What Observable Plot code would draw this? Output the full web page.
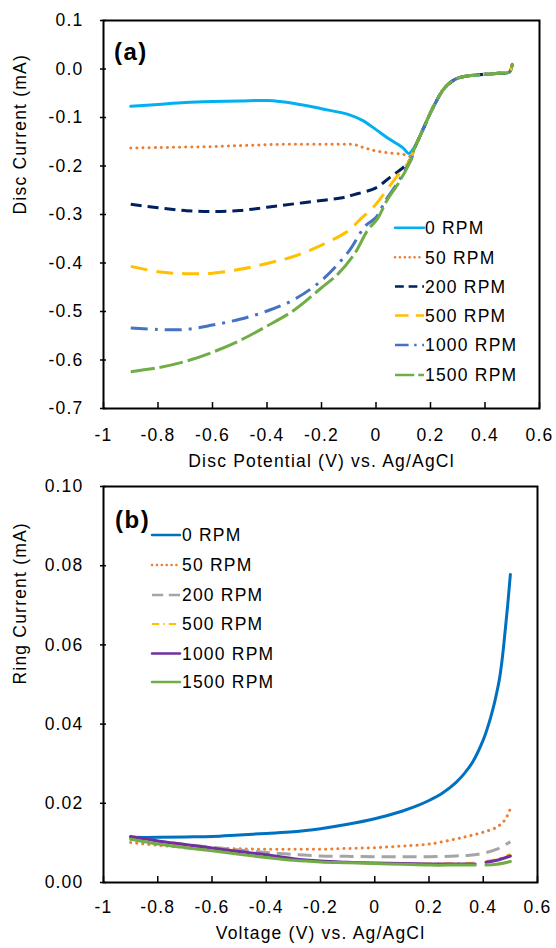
<!DOCTYPE html>
<html>
<head>
<meta charset="utf-8">
<script src="https://cdn.jsdelivr.net/npm/d3@7"></script>
<script src="https://cdn.jsdelivr.net/npm/@observablehq/plot@0.6"></script>
<style>
  body { margin: 0; background: #fff; }
  #chart { width: 556px; }
  #chart svg { display: block; }
</style>
</head>
<body>
<div id="chart"></div>
<script>
// ---------- Data ----------
const seriesNames = ["0 RPM", "50 RPM", "200 RPM", "500 RPM", "1000 RPM", "1500 RPM"];

// Panel (a): disc current (mA) vs disc potential (V)
const disc0V = [-0.9,-0.8,-0.7,-0.6,-0.5,-0.4,-0.3,-0.2,-0.1,-0.05,0,0.05,0.1,0.12,0.14,0.16,0.18,0.2,0.22,0.24,0.26,0.28,0.3,0.34,0.4,0.45,0.49,0.5];
const disc0I = [-0.077,-0.073,-0.069,-0.067,-0.066,-0.065,-0.071,-0.082,-0.094,-0.106,-0.125,-0.145,-0.163,-0.174,-0.162,-0.140,-0.115,-0.090,-0.068,-0.048,-0.034,-0.025,-0.019,-0.014,-0.011,-0.009,-0.006,0.010];

const disc50V = [-0.9,-0.8,-0.7,-0.6,-0.5,-0.4,-0.3,-0.2,-0.13,-0.08,-0.04,0,0.05,0.1,0.125,0.14,0.16,0.18,0.2,0.22,0.24,0.26,0.28,0.3,0.34,0.4,0.45,0.49,0.5];
const disc50I = [-0.163,-0.162,-0.161,-0.160,-0.158,-0.156,-0.155,-0.155,-0.155,-0.156,-0.163,-0.169,-0.173,-0.176,-0.180,-0.165,-0.140,-0.115,-0.090,-0.068,-0.048,-0.034,-0.025,-0.019,-0.014,-0.011,-0.009,-0.006,0.010];

const disc200V = [-0.9,-0.8,-0.7,-0.6,-0.5,-0.4,-0.3,-0.2,-0.13,-0.08,0,0.05,0.1,0.125,0.14,0.16,0.18,0.2,0.22,0.24,0.26,0.28,0.3,0.34,0.4,0.45,0.49,0.5];
const disc200I = [-0.279,-0.286,-0.292,-0.294,-0.292,-0.285,-0.278,-0.271,-0.266,-0.259,-0.245,-0.224,-0.203,-0.187,-0.165,-0.140,-0.115,-0.090,-0.068,-0.048,-0.034,-0.025,-0.019,-0.014,-0.011,-0.009,-0.006,0.010];

const disc500V = [-0.9,-0.8,-0.7,-0.6,-0.5,-0.4,-0.3,-0.2,-0.1,-0.06,-0.01,0.03,0.065,0.095,0.125,0.14,0.16,0.18,0.2,0.22,0.24,0.26,0.28,0.3,0.34,0.4,0.45,0.49,0.5];
const disc500I = [-0.407,-0.418,-0.422,-0.421,-0.413,-0.401,-0.386,-0.363,-0.333,-0.311,-0.285,-0.257,-0.230,-0.209,-0.187,-0.165,-0.140,-0.115,-0.090,-0.068,-0.048,-0.034,-0.025,-0.019,-0.014,-0.011,-0.009,-0.006,0.010];

const disc1000V = [-0.9,-0.8,-0.7,-0.6,-0.5,-0.4,-0.3,-0.2,-0.1,-0.04,0,0.035,0.078,0.11,0.13,0.14,0.16,0.18,0.2,0.22,0.24,0.26,0.28,0.3,0.34,0.4,0.45,0.49,0.5];
const disc1000I = [-0.534,-0.537,-0.537,-0.528,-0.516,-0.499,-0.475,-0.436,-0.376,-0.324,-0.306,-0.271,-0.236,-0.205,-0.185,-0.165,-0.140,-0.115,-0.090,-0.068,-0.048,-0.034,-0.025,-0.019,-0.014,-0.011,-0.009,-0.006,0.010];

const disc1500V = [-0.9,-0.8,-0.7,-0.6,-0.5,-0.4,-0.3,-0.2,-0.14,-0.08,-0.03,0.005,0.04,0.085,0.13,0.14,0.16,0.18,0.2,0.22,0.24,0.26,0.28,0.3,0.34,0.4,0.45,0.49,0.5];
const disc1500I = [-0.624,-0.616,-0.603,-0.584,-0.560,-0.530,-0.497,-0.451,-0.423,-0.382,-0.332,-0.309,-0.271,-0.233,-0.185,-0.165,-0.140,-0.115,-0.090,-0.068,-0.048,-0.034,-0.025,-0.019,-0.014,-0.011,-0.009,-0.006,0.010];

// Panel (b): ring current (mA) vs voltage (V)
const ring0V = [-0.9,-0.8,-0.7,-0.6,-0.5,-0.4,-0.3,-0.2,-0.1,0,0.1,0.15,0.2,0.25,0.3,0.33,0.36,0.4,0.42,0.44,0.45,0.46,0.47,0.48,0.49,0.5];
const ring0I = [0.0114,0.0114,0.0115,0.0116,0.0120,0.0124,0.0128,0.0136,0.0147,0.0161,0.0180,0.0192,0.0207,0.0226,0.0253,0.0275,0.0303,0.0360,0.0400,0.0450,0.0480,0.0515,0.0565,0.0630,0.0700,0.0778];

const ring50V = [-0.9,-0.8,-0.7,-0.6,-0.5,-0.4,-0.3,-0.2,-0.1,0,0.1,0.2,0.3,0.35,0.4,0.45,0.48,0.5];
const ring50I = [0.0101,0.0094,0.0089,0.0087,0.0085,0.0084,0.0084,0.0084,0.0086,0.0088,0.0092,0.0097,0.0110,0.0118,0.0127,0.0140,0.0158,0.0187];

const ring200V = [-0.9,-0.8,-0.7,-0.6,-0.5,-0.4,-0.3,-0.2,-0.1,0,0.1,0.2,0.3,0.35,0.4,0.45,0.5];
const ring200I = [0.0114,0.0104,0.0096,0.0089,0.0082,0.0076,0.0071,0.0067,0.0066,0.0065,0.0065,0.0065,0.0067,0.0069,0.0074,0.0084,0.0103];

const ringLowV = [-0.9,-0.8,-0.7,-0.6,-0.5,-0.4,-0.3,-0.2,-0.1,0,0.1,0.2,0.3,0.37,0.39,0.41,0.45,0.5];
const ring500I  = [0.0114,0.0104,0.0094,0.0085,0.0074,0.0064,0.0057,0.0052,0.0050,0.0048,0.0048,0.0048,0.0049,0.0050,null,0.0054,0.0059,0.0072];
const ring1000I = [0.0116,0.0105,0.0096,0.0087,0.0078,0.0070,0.0060,0.0054,0.0051,0.0049,0.0048,0.0047,0.0047,0.0047,null,0.0051,0.0056,0.0067];
const ring1500I = [0.0109,0.0097,0.0088,0.0080,0.0071,0.0063,0.0056,0.0052,0.0050,0.0048,0.0046,0.0044,0.0044,0.0044,null,0.0044,0.0046,0.0053];

// Axis ticks
const xTicks = [-1,-0.8,-0.6,-0.4,-0.2,0,0.2,0.4,0.6];
const yTicksA = [0.1,0,-0.1,-0.2,-0.3,-0.4,-0.5,-0.6,-0.7];
const yTicksB = [0,0.02,0.04,0.06,0.08,0.10];

// ---------- Styles ----------
const FONT = "'Liberation Sans', Arial, sans-serif";
const LS = "1.2px";
const stylesA = [
  {color: "#00B0F0", dash: null, width: 3, cap: "round"},
  {color: "#ED7D31", dash: "0.1,6", width: 3, cap: "round"},
  {color: "#002060", dash: "11,6", width: 3, cap: "butt"},
  {color: "#FFC000", dash: "17,9", width: 3, cap: "butt"},
  {color: "#4472C4", dash: "17,7,3,7", width: 3, cap: "butt"},
  {color: "#70AD47", dash: "24,5", width: 3, cap: "butt"}
];
const stylesB = [
  {color: "#0070C0", dash: null, width: 3, cap: "round"},
  {color: "#ED7D31", dash: "0.1,6", width: 3, cap: "round"},
  {color: "#A5A5A5", dash: "14,7", width: 3, cap: "butt"},
  {color: "#FFC000", dash: "9,5,2,5", width: 2, cap: "butt"},
  {color: "#7030A0", dash: null, width: 3, cap: "round"},
  {color: "#70AD47", dash: null, width: 3, cap: "round"}
];

function toRows(V, I) { return V.map((v, i) => ({V: v, I: I[i]})); }
const discData = [toRows(disc0V, disc0I), toRows(disc50V, disc50I), toRows(disc200V, disc200I),
                  toRows(disc500V, disc500I), toRows(disc1000V, disc1000I), toRows(disc1500V, disc1500I)];
const ringData = [toRows(ring0V, ring0I), toRows(ring50V, ring50I), toRows(ring200V, ring200I),
                  toRows(ringLowV, ring500I), toRows(ringLowV, ring1000I), toRows(ringLowV, ring1500I)];

const fmtX = d => String(+d.toFixed(1));
const W = 556;

function panel({height, mt, mb, ml, mr, yDomain, yTicks, fmtY, data, styles, xLabel, yLabel, xPad, yTitleDx, xTitleDy}) {
  const fw = W - ml - mr, fh = height - mt - mb;
  const lines = data.map((rows, k) => Plot.line(rows, {
    x: "V", y: "I", stroke: styles[k].color, strokeWidth: styles[k].width,
    strokeDasharray: styles[k].dash ?? undefined, strokeLinecap: styles[k].cap,
    strokeLinejoin: "round", curve: "catmull-rom"
  }));
  return Plot.plot({
    width: W, height, marginTop: mt, marginBottom: mb, marginLeft: ml, marginRight: mr,
    style: {fontFamily: FONT, fontSize: "17.5px", color: "#000", background: "#fff", overflow: "visible"},
    x: {domain: [-1, 0.6]},
    y: {domain: yDomain},
    marks: [
      ...lines,
      Plot.frame({stroke: "#000", strokeWidth: 2}),
      Plot.tickX(xTicks, {x: d => d, insetTop: fh - 6, stroke: "#000", strokeWidth: 1.5}),
      Plot.tickY(yTicks, {y: d => d, insetRight: fw - 3, stroke: "#000", strokeWidth: 1.5}),
      Plot.axisX({ticks: xTicks, tickFormat: fmtX, tickSize: 0, tickPadding: xPad, label: null, fill: "#000", stroke: "none"}),
      Plot.axisY({ticks: yTicks, tickFormat: fmtY, tickSize: 3, tickPadding: 17, label: null, fill: "#000", strokeWidth: 1.5}),
      Plot.text([xLabel], {text: d => d, frameAnchor: "bottom", dy: xTitleDy, fill: "#000", fontSize: 17.5}),
      Plot.text([yLabel], {text: d => d, frameAnchor: "left", dx: yTitleDx, rotate: -90, fill: "#000", fontSize: 17.5})
    ]
  });
}

const HA = 462;
const plotA = panel({
  height: HA, mt: 20, mb: HA - 408, ml: 103, mr: W - 539,
  yDomain: [-0.7, 0.1], yTicks: yTicksA, fmtY: d => d.toFixed(1),
  data: discData, styles: stylesA,
  xLabel: "Disc Potential (V) vs. Ag/AgCl", yLabel: "Disc Current (mA)",
  xPad: 20, yTitleDx: -83, xTitleDy: 58
});

const HB = 948 - HA;
const plotB = panel({
  height: HB, mt: 486 - HA, mb: HB - (882 - HA), ml: 103, mr: W - 537,
  yDomain: [0, 0.1], yTicks: yTicksB, fmtY: d => d.toFixed(2),
  data: ringData, styles: stylesB,
  xLabel: "Voltage (V) vs. Ag/AgCl", yLabel: "Ring Current (mA)",
  xPad: 18, yTitleDx: -83, xTitleDy: 56
});

const chart = document.getElementById("chart");
chart.appendChild(plotA);
chart.appendChild(plotB);

// letter spacing for all text to mimic the wide Excel rendering
d3.selectAll("#chart svg text").attr("letter-spacing", LS);

// Legends and panel labels (pixel positions inside each SVG)
function addLegend(svgEl, styles, x0, x1, tx, ys, label, lx, ly) {
  const svg = d3.select(svgEl);
  const g = svg.append("g").attr("font-family", FONT).attr("font-size", "17.5px")
    .attr("letter-spacing", LS).attr("text-anchor", "start");
  seriesNames.forEach((name, i) => {
    const s = styles[i];
    g.append("line").attr("x1", x0).attr("x2", x1).attr("y1", ys[i]).attr("y2", ys[i])
      .attr("stroke", s.color).attr("stroke-width", Math.min(s.width, 2.5))
      .attr("stroke-dasharray", s.dash ? s.dash.split(",").map(v => +v * 0.8).join(",") : null)
      .attr("stroke-linecap", s.cap);
    g.append("text").attr("x", tx).attr("y", ys[i]).attr("dy", "0.36em")
      .attr("text-anchor", "start").attr("fill", "#000").text(name);
  });
  svg.append("text").attr("x", lx).attr("y", ly).attr("dy", "0.36em").attr("text-anchor", "start")
    .attr("font-family", FONT).attr("font-size", "24px").attr("font-weight", "bold")
    .attr("letter-spacing", "1.5px").attr("fill", "#000").text(label);
}
addLegend(plotA, stylesA, 395, 424, 425, [227.7, 257.3, 286.5, 315.5, 345, 375], "(a)", 114, 51.5);
addLegend(plotB, stylesB, 152, 180, 182, [535 - HA, 565 - HA, 595 - HA, 624 - HA, 653.5 - HA, 682 - HA], "(b)", 115, 519 - HA);
</script>
</body>
</html>
